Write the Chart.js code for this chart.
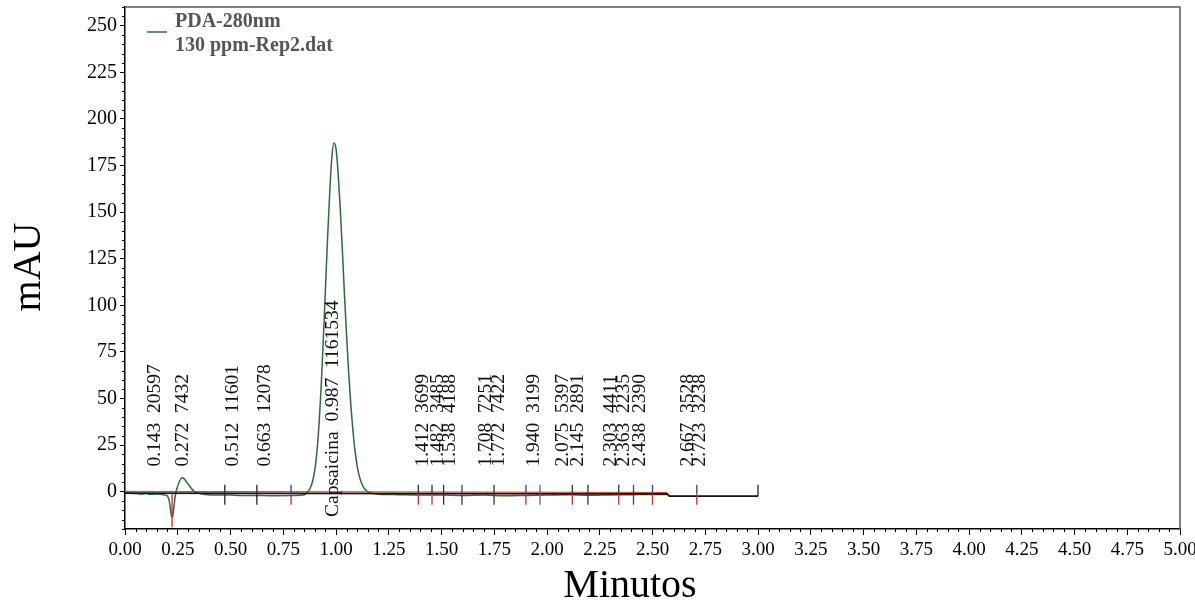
<!DOCTYPE html>
<html><head><meta charset="utf-8">
<script src="https://cdn.jsdelivr.net/npm/chart.js@4/dist/chart.umd.min.js"></script>
<style>html,body{margin:0;padding:0;background:#fff;}#wrap{width:1195px;height:607px;}</style>
</head><body><div id="wrap"><canvas id="c" width="1195" height="607"></canvas></div>
<script>
// ---- data ----
const timeMin = [0.00,0.02,0.05,0.08,0.10,0.12,0.15,0.18,0.20,0.21,0.215,0.22,0.225,0.23,0.235,0.24,0.25,0.26,0.27,0.28,0.29,0.30,0.31,0.32,0.34,0.38,0.45,0.50,0.55,0.60,0.70,0.80,0.85,0.86,0.87,0.88,0.89,0.90,0.91,0.92,0.93,0.94,0.95,0.96,0.97,0.98,0.99,1.00,1.01,1.02,1.03,1.04,1.05,1.06,1.07,1.08,1.09,1.10,1.11,1.12,1.13,1.14,1.15,1.17,1.20,1.30,1.40,1.50,1.60,1.70,1.80,1.90,2.00,2.10,2.20,2.30,2.40,2.50,2.57];
const signalMAU = [-0.5,-0.8,-1.0,-1.3,-1.0,-1.4,-1.2,-1.6,-2.2,-5,-9,-13,-13.5,-10,-5,-1,3,6,7.5,7,5.5,4,2.5,1,-0.5,-1.5,-1.8,-1.8,-2.0,-2.0,-2.1,-2.0,-1.6,-0.8,0.5,2.5,6,12,22,37,57,82,109,136,160,179,187,184,171,152,130,106,84,64,47,33,22,14,8.5,5,2.5,1,0,-0.8,-1.3,-1.6,-1.8,-1.7,-2.0,-1.8,-2.2,-2.0,-1.8,-1.6,-1.9,-1.7,-1.6,-1.5,-1.5];
const baselineTime = [0.00, 2.57, 2.58, 3.00];
const baselineMAU = [-0.8, -1.2, -2.4, -2.4];
const integTime = [0.00, 2.57];
const integMAU = [0.2, -0.4];
const peakTimes = [0.143,0.272,0.512,0.663,0.987,1.412,1.482,1.538,1.708,1.772,1.940,2.075,2.145,2.303,2.363,2.438,2.667,2.723];
const peakAreas = [20597,7432,11601,12078,1161534,3699,3485,4188,7251,7422,3199,5397,2891,4411,2235,2390,3528,3238];
const peakNames = ['','','','','Capsaicina','','','','','','','','','','','','',''];
const markerTimes = [0.223,0.473,0.625,0.787,1.39,1.455,1.51,1.597,1.749,1.90,1.967,2.12,2.194,2.34,2.41,2.50,2.71];
const endMarkTime = 3.0;
const xTicks = [0,0.25,0.5,0.75,1,1.25,1.5,1.75,2,2.25,2.5,2.75,3,3.25,3.5,3.75,4,4.25,4.5,4.75,5];
const yTicks = [0,25,50,75,100,125,150,175,200,225,250];
const seriesLabel = ['PDA-280nm','130 ppm-Rep2.dat'];
const xTitle = 'Minutos';
const yTitle = 'mAU';

// ---- styles ----
const SERIF = '"Liberation Serif","Times New Roman",serif';
const GREEN = '#2f6b35';
const markerColors = [
 ['#c0282a','#c0282a'],['#222','#222'],['#222','#222'],['#2a3f9a','#c0282a'],
 ['#333','#b33'],['#333','#b33'],['#333','#333'],['#2a3f9a','#333'],['#333','#333'],
 ['#2a3f9a','#b33'],['#666','#666'],['#333','#b33'],['#333','#333'],['#333','#b33'],
 ['#2a3f9a','#2a3f9a'],['#2a3f9a','#b33'],['#2a3f9a','#b33']
];

const pts = (xs, ys) => xs.map((t,i)=>({x:t, y:ys[i]}));

const deco = {
  id:'deco',
  afterDatasetsDraw(chart){
    const {ctx, scales:{x,y}, chartArea:ca} = chart;
    ctx.save();
    // top/right frame
    ctx.strokeStyle='#555'; ctx.lineWidth=1.5;
    ctx.beginPath(); ctx.moveTo(ca.left, ca.top); ctx.lineTo(ca.right, ca.top); ctx.lineTo(ca.right, ca.bottom); ctx.stroke();
    // minor ticks
    ctx.strokeStyle='#000'; ctx.lineWidth=1;
    ctx.beginPath();
    for(let k=0;k<=100;k++){ if(k%5===0) continue; const px=Math.round(x.getPixelForValue(k*0.05))+0.5; ctx.moveTo(px, ca.bottom); ctx.lineTo(px, ca.bottom+3); }
    for(let v=-20; v<=260; v+=5){ if(v%25===0) continue; const py=Math.round(y.getPixelForValue(v))+0.5; ctx.moveTo(ca.left, py); ctx.lineTo(ca.left-3, py); }
    ctx.stroke();
    // integration markers
    ctx.lineWidth=1.3;
    markerTimes.forEach((t,i)=>{
      const px = x.getPixelForValue(t);
      const c = markerColors[i] || ['#333','#b33'];
      let yTop = y.getPixelForValue(3.7), yMid = y.getPixelForValue(-1), yBot = y.getPixelForValue(-7);
      if(i===0){ yTop = y.getPixelForValue(0); yMid = y.getPixelForValue(-8); yBot = y.getPixelForValue(-19); }
      ctx.strokeStyle=c[0]; ctx.beginPath(); ctx.moveTo(px,yTop); ctx.lineTo(px,yMid); ctx.stroke();
      ctx.strokeStyle=c[1]; ctx.beginPath(); ctx.moveTo(px,yMid); ctx.lineTo(px,yBot); ctx.stroke();
    });
    // end mark
    ctx.strokeStyle='#222';
    const ex = x.getPixelForValue(endMarkTime);
    ctx.beginPath(); ctx.moveTo(ex, y.getPixelForValue(-2.4)); ctx.lineTo(ex, y.getPixelForValue(3.7)); ctx.stroke();
    // peak labels
    ctx.fillStyle='#111'; ctx.font='19.5px '+SERIF; ctx.textAlign='left'; ctx.textBaseline='middle';
    peakTimes.forEach((t,i)=>{
      const txt = (peakNames[i] ? peakNames[i]+'  ' : '') + t.toFixed(3) + '  ' + peakAreas[i];
      const px = x.getPixelForValue(t);
      const py = y.getPixelForValue(peakNames[i] ? -13.5 : 13.5);
      ctx.save(); ctx.translate(px, py); ctx.rotate(-Math.PI/2); ctx.fillText(txt, 0, 0); ctx.restore();
    });
    // legend
    ctx.strokeStyle=GREEN; ctx.lineWidth=1.5;
    ctx.beginPath(); ctx.moveTo(147,32); ctx.lineTo(167,32); ctx.stroke();
    ctx.fillStyle='#555'; ctx.font='bold 20px '+SERIF; ctx.textBaseline='alphabetic';
    ctx.fillText(seriesLabel[0], 175, 27);
    ctx.fillText(seriesLabel[1], 175, 51);
    // axis titles
    ctx.fillStyle='#000'; ctx.font='40px '+SERIF; ctx.textAlign='center';
    ctx.fillText(xTitle, 630, 597);
    ctx.save(); ctx.translate(40, 267); ctx.rotate(-Math.PI/2); ctx.textBaseline='alphabetic'; ctx.fillText(yTitle, 0, 0); ctx.restore();
    ctx.restore();
  }
};

new Chart(document.getElementById('c'), {
  type:'line',
  data:{ datasets:[
    {data:pts(integTime, integMAU), borderColor:'#d23a2a', borderWidth:1, pointRadius:0},
    {data:pts(baselineTime, baselineMAU), borderColor:'#111', borderWidth:1.8, pointRadius:0},
    {data:pts(timeMin, signalMAU), borderColor:GREEN, borderWidth:1.5, pointRadius:0, cubicInterpolationMode:'monotone'}
  ]},
  options:{
    responsive:false, animation:false, devicePixelRatio:1,
    layout:{padding:{top:7, right:15, left:0, bottom:0}},
    plugins:{legend:{display:false}, tooltip:{enabled:false}},
    scales:{
      x:{type:'linear', min:0, max:5,
        afterBuildTicks:s=>{ s.ticks = xTicks.map(v=>({value:v})); },
        afterFit:s=>{ s.height = 78; s.paddingLeft = 0; s.paddingRight = 0; },
        ticks:{autoSkip:false, maxRotation:0, color:'#000', font:{family:SERIF, size:19}, padding:4, callback:v=>v.toFixed(2)},
        grid:{drawOnChartArea:false, tickLength:6, color:'#000'},
        border:{display:true, color:'#000', width:1.5}
      },
      y:{type:'linear', min:-20, max:260,
        afterBuildTicks:s=>{ s.ticks = yTicks.map(v=>({value:v})); },
        afterFit:s=>{ s.width = 125; s.paddingTop = 0; s.paddingBottom = 0; },
        ticks:{color:'#000', font:{family:SERIF, size:20}, padding:3, callback:v=>String(v)},
        grid:{drawOnChartArea:false, tickLength:5, color:'#000'},
        border:{display:true, color:'#000', width:1.5}
      }
    }
  },
  plugins:[deco]
});
</script></body></html>
